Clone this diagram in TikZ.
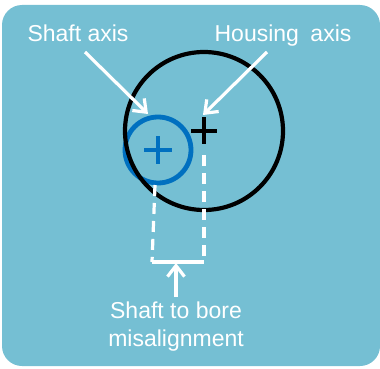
\documentclass[tikz,border=0pt]{standalone}
\usepackage{fontspec}
\setmainfont{Liberation Sans}
\usetikzlibrary{arrows.meta}
\definecolor{bgblue}{RGB}{117,191,211}
\definecolor{shaftblue}{RGB}{0,112,192}
\begin{document}
\begin{tikzpicture}[x=1pt,y=-1pt,
  lbl/.style={text=white,font=\fontsize{23}{28}\selectfont,inner sep=0pt,anchor=base},
  warrow/.style={draw=white,line width=3.2pt,-{Straight Barb[length=11pt,width=17pt,line width=3.2pt]}},
  dashln/.style={draw=white,line width=3.2pt,dash pattern=on 11pt off 7pt},
  plusmark/.style={line width=4.4pt}]
\useasboundingbox (0,0) rectangle (380,369);
\fill[bgblue,rounded corners=20pt] (2,5) rectangle (380,366);
% circles
\coordinate (sc) at (158,150);
\coordinate (hc) at (204,131);
\draw[shaftblue,line width=4.8pt] (sc) circle[radius=33];
\draw[black,line width=4.2pt] (hc) circle[radius=79];
% plus marks
\draw[shaftblue,plusmark] (144,150) -- (172,150) (158,136) -- (158,164);
\draw[black,plusmark] (191,131) -- (217,131) (204,117) -- (204,144);
% dashed lines and bracket
\coordinate (ltop) at (155,185);
\coordinate (lbot) at (152,262);
\coordinate (rtop) at (204,155);
\coordinate (rbot) at (204,262);
\coordinate (mid) at (176,263);
\draw[dashln] (ltop) -- (lbot);
\draw[dashln] (rtop) -- (rbot);
\draw[white,line width=3.2pt] (lbot) -- (rbot);
% labels
\node[lbl] (shaft) at (78,42) {Shaft axis};
\node[lbl] (housing) at (283,42) {Housing\hspace{0.5em}axis};
\node[lbl] (mis1) at (176,318) {Shaft to bore};
\node[lbl] (mis2) at (176,346) {misalignment};
\coordinate (mstart) at (176,297);
% arrows
\coordinate (s1) at (85,52);
\coordinate (s2) at (148,114);
\coordinate (h1) at (267,52);
\coordinate (h2) at (203,115);
\draw[warrow] (s1) -- (s2);
\draw[warrow] (h1) -- (h2);
\draw[warrow] (mstart) -- (mid);
\end{tikzpicture}
\end{document}
